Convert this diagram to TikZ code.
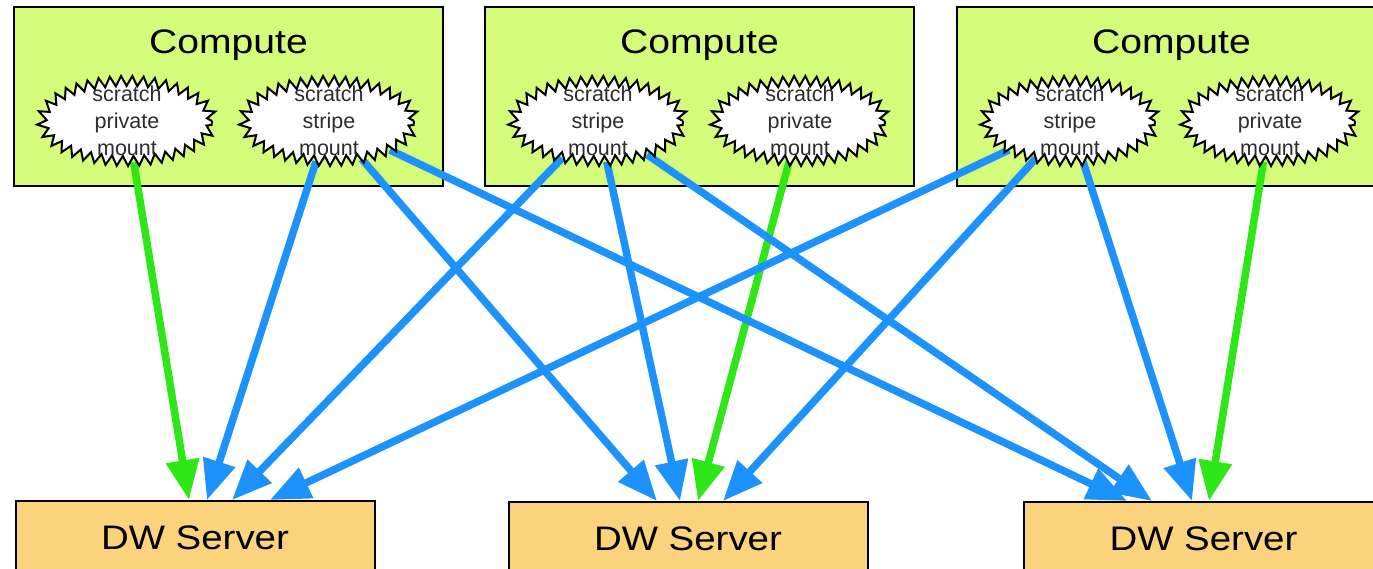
\documentclass[tikz,border=0pt]{standalone}
\usepackage{fontspec}
\usepackage{graphicx}
\setmainfont{Liberation Sans}
\usetikzlibrary{arrows.meta,calc,shapes.geometric,decorations.pathmorphing}

\definecolor{computefill}{RGB}{213,251,122}
\definecolor{serverfill}{RGB}{252,211,125}
\definecolor{linkblue}{RGB}{28,146,252}
\definecolor{linkgreen}{RGB}{45,232,22}
\definecolor{mounttext}{RGB}{45,45,45}

\newcommand{\titlefont}{\fontsize{34}{40}\selectfont}
\newcommand{\mountfont}{\fontsize{21.5}{27}\selectfont}

\pgfdeclarelayer{boxes}
\pgfdeclarelayer{links}
\pgfsetlayers{boxes,links,main}

\begin{document}
\begin{tikzpicture}[x=1pt,y=-1pt,
  computebox/.style={draw=black, line width=2pt, fill=computefill,
    minimum width=429pt, minimum height=179pt, inner sep=0pt},
  serverbox/.style={draw=black, line width=2pt, fill=serverfill,
    minimum width=359pt, minimum height=74pt, inner sep=0pt, font=\titlefont},
  boxtitle/.style={anchor=base, inner sep=0pt, font=\titlefont},
  mountburst/.style={ellipse, draw=black, line width=2pt, fill=white,
    minimum width=170pt, minimum height=80pt, inner xsep=0pt, inner ysep=-14pt,
    align=center, text=mounttext, font=\mountfont,
    decorate, decoration={zigzag, segment length=11pt, amplitude=5pt}},
  stripelink/.style={draw=linkblue, line width=7.5pt,
    -{Triangle[length=40pt,width=32pt]}},
  privlink/.style={draw=linkgreen, line width=7.5pt,
    -{Triangle[length=40pt,width=32pt]}}]

\useasboundingbox (0,0) rectangle (1373,569);

% compute nodes
\begin{pgfonlayer}{boxes}
  \node[computebox] (cmp1) at (228.5,96.5) {};
  \node[computebox] (cmp2) at (699.5,96.5) {};
  \node[computebox] (cmp3) at (1171.5,96.5) {};
\end{pgfonlayer}
\node[boxtitle] (cmp1t) at ($(cmp1.north)+(0,48)$) {\scalebox{1.15}[1]{Compute}};
\node[boxtitle] (cmp2t) at ($(cmp2.north)+(0,48)$) {\scalebox{1.15}[1]{Compute}};
\node[boxtitle] (cmp3t) at ($(cmp3.north)+(0,48)$) {\scalebox{1.15}[1]{Compute}};

% mounts
\node[mountburst] (m1p) at (127,121) {scratch\\private\\mount};
\node[mountburst] (m1s) at (329,121) {scratch\\stripe\\mount};
\node[mountburst] (m2s) at (598,121) {scratch\\stripe\\mount};
\node[mountburst] (m2p) at (800,121) {scratch\\private\\mount};
\node[mountburst] (m3s) at (1070,121) {scratch\\stripe\\mount};
\node[mountburst] (m3p) at (1270,121) {scratch\\private\\mount};

% DataWarp servers
\node[serverbox] (dw1) at (195,538) {\scalebox{1.13}[1]{DW Server}};
\node[serverbox] (dw2) at (688,539) {\scalebox{1.13}[1]{DW Server}};
\node[serverbox] (dw3) at (1203.5,539) {\scalebox{1.13}[1]{DW Server}};

% mount-to-server links
\begin{pgfonlayer}{links}
  \draw[privlink] (m1p) -- ($(dw1.north)+(-6,0)$);
  \draw[privlink] (m2p) -- ($(dw2.north)+(10,0)$);
  \draw[privlink] (m3p) -- ($(dw3.north)+(5.5,0)$);

  \draw[stripelink] (m1s) -- ($(dw1.north)+(12,0)$);
  \draw[stripelink] (m1s) -- ($(dw2.north)+(-31,0)$);
  \draw[stripelink] (m1s) -- ($(dw3.north)+(-76.5,0)$);

  \draw[stripelink] (m2s) -- ($(dw1.north)+(37,0)$);
  \draw[stripelink] (m2s) -- ($(dw2.north)+(-8,0)$);
  \draw[stripelink] (m2s) -- ($(dw3.north)+(-51.5,0)$);

  \draw[stripelink] (m3s) -- ($(dw1.north)+(75,0)$);
  \draw[stripelink] (m3s) -- ($(dw2.north)+(35,0)$);
  \draw[stripelink] (m3s) -- ($(dw3.north)+(-11.5,0)$);
\end{pgfonlayer}

\end{tikzpicture}
\end{document}
